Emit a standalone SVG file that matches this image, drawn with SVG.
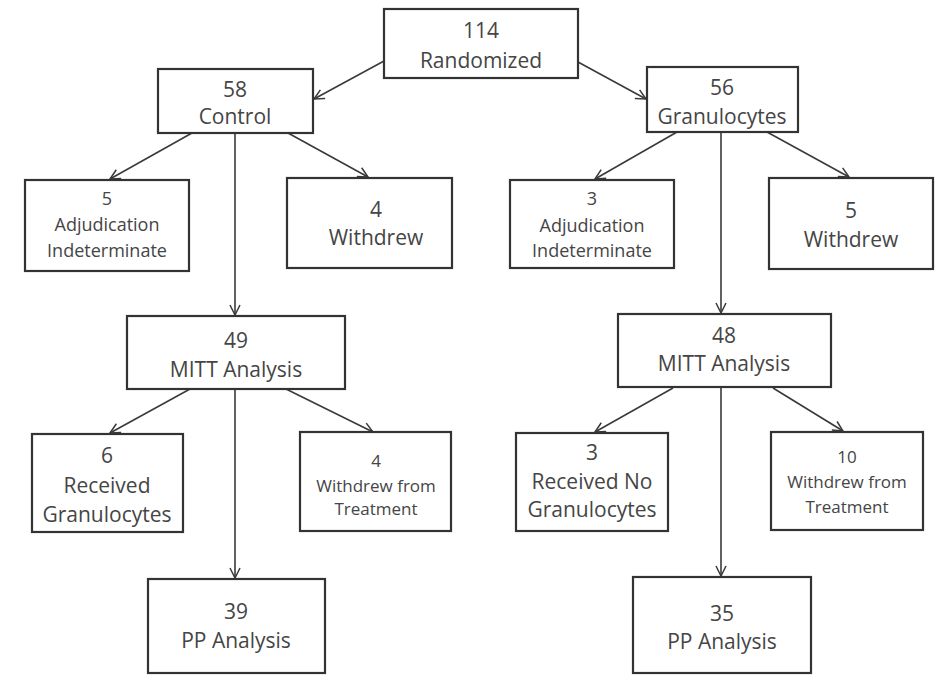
<svg xmlns="http://www.w3.org/2000/svg" width="943" height="675" viewBox="0 0 943 675">
<defs>
<marker id="arr" viewBox="0 0 12 12" refX="11" refY="6" markerWidth="12" markerHeight="12" markerUnits="userSpaceOnUse" orient="auto">
<path d="M1,1 L11,6 L1,11" fill="none" stroke="#3a3a3a" stroke-width="1.5"/>
</marker>
</defs>
<style>
.box{fill:#fff;stroke:#333;stroke-width:2.2}
.t{font-family:"Open Sans","Liberation Sans",sans-serif;font-size:21px;fill:#454545;text-anchor:middle}
.s{font-size:18px}
.xs{font-size:17px}
.c{stroke:#3a3a3a;stroke-width:1.6;fill:none;marker-end:url(#arr)}
</style>
<rect width="943" height="675" fill="#fff"/>
<g id="connectors">
<line class="c" x1="384" y1="61" x2="314" y2="99"/>
<line class="c" x1="578" y1="62" x2="646" y2="99"/>
<line class="c" x1="192" y1="133" x2="110" y2="179"/>
<line class="c" x1="288" y1="133" x2="368" y2="177"/>
<line class="c" x1="235" y1="133" x2="235" y2="315"/>
<line class="c" x1="677" y1="132" x2="595" y2="179"/>
<line class="c" x1="767" y1="132" x2="849" y2="177"/>
<line class="c" x1="721" y1="132" x2="721" y2="313"/>
<line class="c" x1="190" y1="389" x2="110" y2="433"/>
<line class="c" x1="286" y1="389" x2="373" y2="432"/>
<line class="c" x1="235" y1="389" x2="235" y2="578"/>
<line class="c" x1="673" y1="388" x2="595" y2="432"/>
<line class="c" x1="773" y1="388" x2="843" y2="431"/>
<line class="c" x1="721" y1="388" x2="721" y2="576"/>
</g>
<g id="randomized"><rect class="box" x="384" y="9" width="194" height="69"/><text class="t" x="481" y="38">114</text><text class="t" x="481" y="68">Randomized</text></g>
<g id="control"><rect class="box" x="158" y="69" width="155" height="64"/><text class="t" x="235" y="97">58</text><text class="t" x="235" y="124">Control</text></g>
<g id="granulocytes"><rect class="box" x="647" y="67" width="151" height="65"/><text class="t" x="722" y="95">56</text><text class="t" x="722" y="124">Granulocytes</text></g>
<g id="ctrl-adj"><rect class="box" x="25" y="180" width="164" height="91"/><text class="t s" x="107" y="205">5</text><text class="t s" x="107" y="231">Adjudication</text><text class="t s" x="107" y="257">Indeterminate</text></g>
<g id="ctrl-withdrew"><rect class="box" x="287" y="178" width="165" height="90"/><text class="t" x="376" y="217">4</text><text class="t" x="376" y="245">Withdrew</text></g>
<g id="gran-adj"><rect class="box" x="510" y="180" width="164" height="88"/><text class="t s" x="592" y="205">3</text><text class="t s" x="592" y="232">Adjudication</text><text class="t s" x="592" y="257">Indeterminate</text></g>
<g id="gran-withdrew"><rect class="box" x="769" y="178" width="164" height="91"/><text class="t" x="851" y="218">5</text><text class="t" x="851" y="247">Withdrew</text></g>
<g id="ctrl-mitt"><rect class="box" x="127" y="316" width="218" height="73"/><text class="t" x="236" y="348">49</text><text class="t" x="236" y="377">MITT Analysis</text></g>
<g id="gran-mitt"><rect class="box" x="618" y="314" width="213" height="73"/><text class="t" x="724" y="343">48</text><text class="t" x="724" y="371">MITT Analysis</text></g>
<g id="ctrl-received"><rect class="box" x="32" y="434" width="151" height="98"/><text class="t" x="107" y="463">6</text><text class="t" x="107" y="493">Received</text><text class="t" x="107" y="522">Granulocytes</text></g>
<g id="ctrl-withdrew-tx"><rect class="box" x="300" y="432" width="151" height="99"/><text class="t xs" x="376" y="467">4</text><text class="t xs" x="376" y="492">Withdrew from</text><text class="t xs" x="376" y="515">Treatment</text></g>
<g id="gran-received"><rect class="box" x="516" y="433" width="152" height="98"/><text class="t" x="592" y="460">3</text><text class="t" x="592" y="489">Received No</text><text class="t" x="592" y="517">Granulocytes</text></g>
<g id="gran-withdrew-tx"><rect class="box" x="771" y="432" width="152" height="98"/><text class="t xs" x="847" y="463">10</text><text class="t xs" x="847" y="488">Withdrew from</text><text class="t xs" x="847" y="513">Treatment</text></g>
<g id="ctrl-pp"><rect class="box" x="148" y="579" width="177" height="94"/><text class="t" x="236" y="619">39</text><text class="t" x="236" y="648">PP Analysis</text></g>
<g id="gran-pp"><rect class="box" x="633" y="577" width="178" height="96"/><text class="t" x="722" y="621">35</text><text class="t" x="722" y="649">PP Analysis</text></g>
</svg>
